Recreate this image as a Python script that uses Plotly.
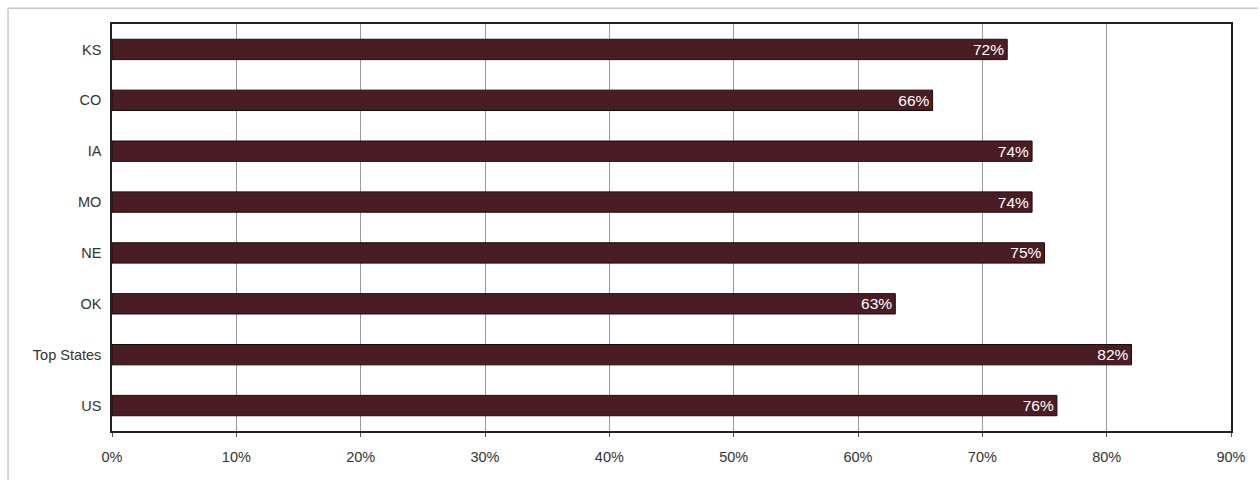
import plotly.graph_objects as go

categories = ["KS", "CO", "IA", "MO", "NE", "OK", "Top States", "US"]
values = [72, 66, 74, 74, 75, 63, 82, 76]
x_ticks = [0, 10, 20, 30, 40, 50, 60, 70, 80, 90]
x_tick_labels = [f"{t}%" for t in x_ticks]

bar_color = "#4a1d24"
font_family = "Liberation Sans, Arial, sans-serif"

fig = go.Figure(
    go.Bar(
        y=categories,
        x=values,
        orientation="h",
        width=0.4,
        marker=dict(color=bar_color, line=dict(color="#1a0a0c", width=1)),
        text=[f"{v}%" for v in values],
        textposition="inside",
        insidetextanchor="end",
        constraintext="none",
        textfont=dict(color="white", size=15.5, family=font_family),
        hoverinfo="skip",
    )
)

fig.update_layout(
    width=1260,
    height=480,
    margin=dict(l=112, r=29, t=24, b=49),
    paper_bgcolor="white",
    plot_bgcolor="white",
    showlegend=False,
    font=dict(family=font_family, size=14.5, color="#333333"),
    xaxis=dict(
        range=[0, 90],
        tickvals=x_ticks,
        ticktext=x_tick_labels,
        showgrid=True,
        gridcolor="#9a9a9a",
        gridwidth=1,
        zeroline=False,
        showline=True,
        linecolor="#222222",
        linewidth=1.5,
        mirror=True,
        ticks="outside",
        ticklen=4,
        tickcolor="#555555",
        ticklabelstandoff=8,
        tickfont=dict(size=14.5, color="#333333"),
    ),
    yaxis=dict(
        categoryorder="array",
        categoryarray=categories[::-1],
        showline=True,
        linecolor="#222222",
        linewidth=1.5,
        mirror=True,
        showgrid=False,
        ticks="",
        tickfont=dict(size=14.5, color="#333333"),
        ticklabelstandoff=6,
    ),
    shapes=[
        # outer chart frame
        dict(type="line", xref="paper", yref="paper",
             x0=-0.0929, x1=1.024, y0=1.039, y1=1.039,
             line=dict(color="#c8c8c8", width=1.5)),
        dict(type="line", xref="paper", yref="paper",
             x0=-0.0929, x1=-0.0929, y0=1.039, y1=-0.2,
             line=dict(color="#c8c8c8", width=1.5)),
    ],
)

fig.write_html("out.html")
